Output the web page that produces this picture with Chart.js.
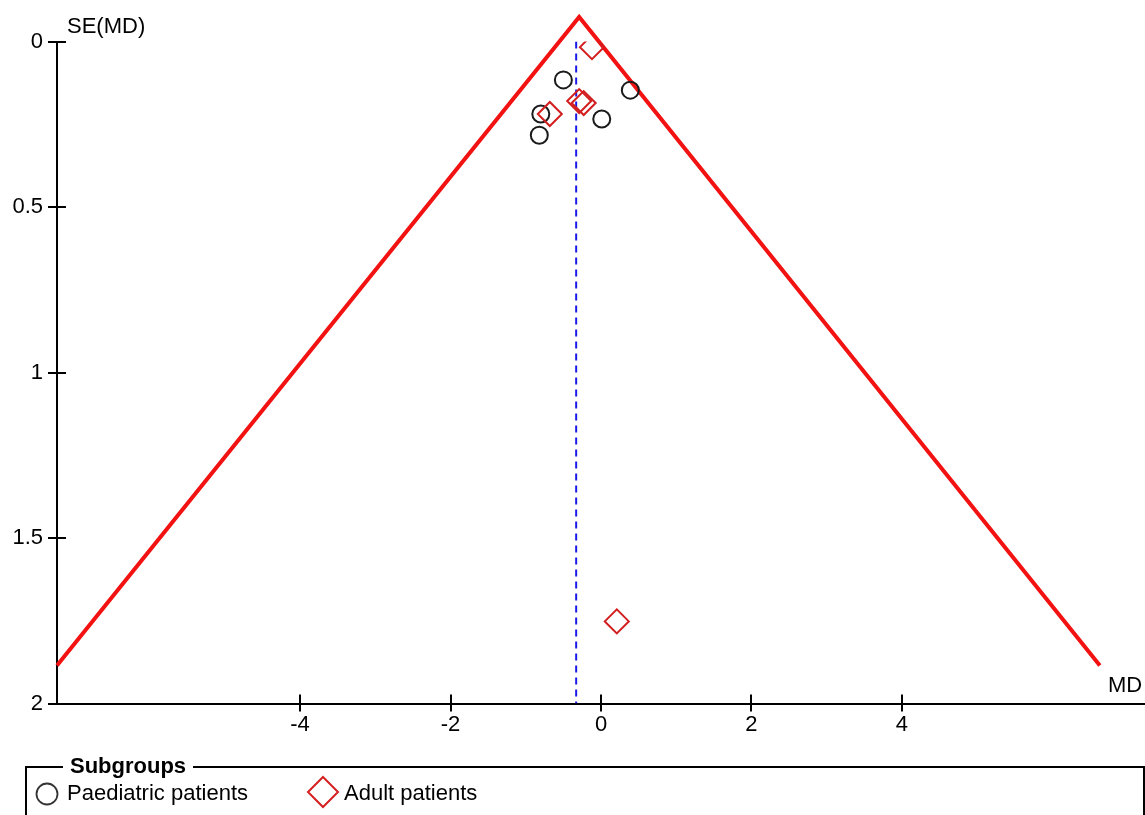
<!DOCTYPE html>
<html>
<head>
<meta charset="utf-8">
<script src="https://cdn.jsdelivr.net/npm/chart.js@4.4.1/dist/chart.umd.min.js"></script>
<style>
html,body{margin:0;padding:0;background:#fff;}
#wrap{position:relative;width:1145px;height:815px;overflow:hidden;font-family:"Liberation Sans",Arial,sans-serif;color:#000;}
#c{position:absolute;left:0;top:0;}
.lbl{position:absolute;font-size:22px;line-height:1;white-space:nowrap;}
#box{position:absolute;left:25px;top:766px;width:1120px;height:100px;border:2px solid #000;box-sizing:border-box;}
#boxTitle{position:absolute;left:63px;top:755px;font-size:22px;font-weight:bold;line-height:1;background:#fff;padding:0 7px;}
svg{position:absolute;}
</style>
</head>
<body>
<div id="wrap">
  <canvas id="c" width="1145" height="815"></canvas>
  <div class="lbl" style="left:67px;top:15px;">SE(MD)</div>
  <div class="lbl" style="left:1108px;top:674px;">MD</div>
  <div id="box"></div>
  <div id="boxTitle">Subgroups</div>
  <svg style="left:34px;top:781px" width="26" height="26"><circle cx="13" cy="13" r="10.5" fill="none" stroke="#333" stroke-width="1.8"/></svg>
  <div class="lbl" style="left:67px;top:782px;">Paediatric patients</div>
  <svg style="left:306px;top:775px" width="34" height="34"><polygon points="17,2 32,17 17,32 2,17" fill="none" stroke="#d42020" stroke-width="2"/></svg>
  <div class="lbl" style="left:344px;top:782px;">Adult patients</div>
</div>
<script>
// ---- data ----
const xTickValues = [-4, -2, 0, 2, 4];
const yTickValues = [0, 0.5, 1, 1.5, 2];
const xRange = [-7.23, 7.23];
const yRange = [0, 2];

const paediatricMD = [-0.50, 0.39, -0.80, 0.01, -0.82];
const paediatricSE = [0.116, 0.147, 0.219, 0.234, 0.283];

const adultMD = [-0.12, -0.29, -0.23, -0.68, 0.21];
const adultSE = [0.017, 0.180, 0.186, 0.219, 1.752];

const pooledMD = -0.33;
const pooledSE = [0, 2];

const funnelMD = [-7.23, -0.29, 6.63];
const funnelSE = [1.885, -0.074, 1.885];

const PAGE_W = 1145, PAGE_H = 815;

const toPts = (xs, ys) => xs.map((v, i) => ({x: v, y: ys[i]}));

const crossTicks = {
  id: 'crossTicks',
  afterDraw(chart) {
    const {ctx, scales: {x, y}} = chart;
    ctx.save();
    ctx.strokeStyle = '#000';
    ctx.lineWidth = 2;
    x.ticks.forEach(t => {
      const px = Math.round(x.getPixelForValue(t.value));
      ctx.beginPath(); ctx.moveTo(px, x.top - 9); ctx.lineTo(px, x.top + 8); ctx.stroke();
    });
    y.ticks.forEach(t => {
      const py = Math.round(y.getPixelForValue(t.value));
      ctx.beginPath(); ctx.moveTo(y.right - 9, py); ctx.lineTo(y.right + 9, py); ctx.stroke();
    });
    ctx.restore();
  }
};

function build(canvas) {
  return new Chart(canvas, {
    type: 'scatter',
    data: {
      datasets: [
        {
          label: 'Funnel',
          data: toPts(funnelMD, funnelSE),
          showLine: true,
          borderColor: '#f21212',
          borderWidth: 4,
          pointRadius: 0,
          clip: false,
          order: 4
        },
        {
          label: 'Pooled',
          data: toPts([pooledMD, pooledMD], pooledSE),
          showLine: true,
          borderColor: '#1a1ae6',
          borderWidth: 2,
          borderDash: [7, 5],
          pointRadius: 0,
          order: 3
        },
        {
          label: 'Paediatric patients',
          data: toPts(paediatricMD, paediatricSE),
          pointStyle: 'circle',
          pointRadius: 8.5,
          borderColor: '#1a1a1a',
          borderWidth: 2,
          backgroundColor: 'rgba(0,0,0,0)',
          order: 2
        },
        {
          label: 'Adult patients',
          data: toPts(adultMD, adultSE),
          pointStyle: 'rectRot',
          pointRadius: 12,
          borderColor: '#d21e1e',
          borderWidth: 2,
          backgroundColor: 'rgba(0,0,0,0)',
          order: 1
        }
      ]
    },
    options: {
      responsive: false,
      maintainAspectRatio: false,
      animation: false,
      layout: {padding: {top: 41.5, left: 0, right: 0, bottom: 0}},
      plugins: {legend: {display: false}, tooltip: {enabled: false}},
      scales: {
        x: {
          type: 'linear',
          position: 'bottom',
          min: xRange[0],
          max: xRange[1],
          afterBuildTicks: s => { s.ticks = xTickValues.map(v => ({value: v})); },
          afterFit: s => { s.height = 111.5; s.paddingLeft = 0; s.paddingRight = 0; },
          grid: {display: false},
          border: {display: true, color: '#000', width: 2},
          ticks: {color: '#000', padding: 0, font: {family: 'Liberation Sans', size: 22}, callback: v => String(v)}
        },
        y: {
          type: 'linear',
          reverse: true,
          min: yRange[0],
          max: yRange[1],
          afterBuildTicks: s => { s.ticks = yTickValues.map(v => ({value: v})); },
          afterFit: s => { s.width = 57; s.paddingTop = 0; s.paddingBottom = 0; },
          grid: {display: false},
          border: {display: true, color: '#000', width: 2},
          ticks: {color: '#000', padding: 6, font: {family: 'Liberation Sans', size: 22}, callback: v => String(v)}
        }
      }
    },
    plugins: [crossTicks]
  });
}

// The plot area must reach the right page edge as in the reference:
// widen the (clipped) canvas by whatever right-hand gap Chart.js leaves.
const canvas = document.getElementById('c');
let w = PAGE_W;
let chart = build(canvas);
for (let i = 0; i < 3; i++) {
  const gap = PAGE_W - chart.chartArea.right;
  if (Math.abs(gap) < 0.5) break;
  w = Math.round(w + gap);
  chart.destroy();
  canvas.width = w;
  canvas.height = PAGE_H;
  canvas.style.width = w + 'px';
  canvas.style.height = PAGE_H + 'px';
  chart = build(canvas);
}
</script>
</body>
</html>
